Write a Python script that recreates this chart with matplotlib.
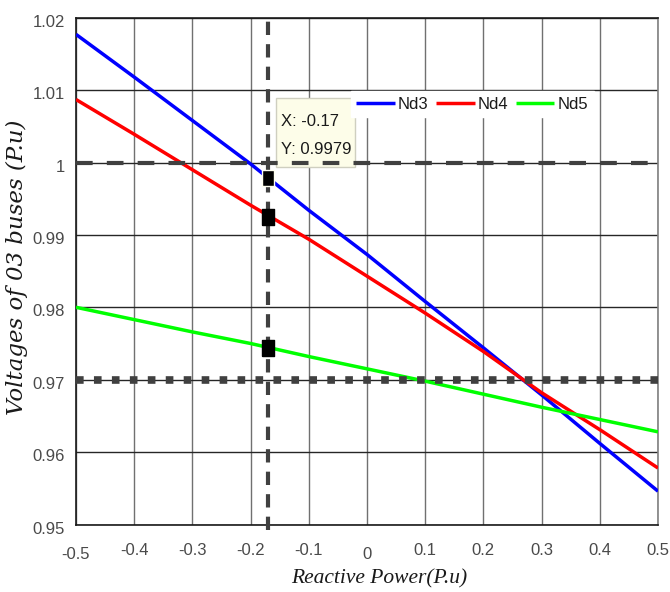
import matplotlib
matplotlib.use("Agg")
import matplotlib.pyplot as plt
import matplotlib.transforms as mtrans
from matplotlib.patches import Rectangle

# ---------------- data ----------------
q = [-0.5, -0.4, -0.3, -0.2, -0.1, 0.0, 0.1, 0.2, 0.3, 0.4, 0.5]
nd3 = [1.0177, 1.0118, 1.0058, 0.9998, 0.9934, 0.9873, 0.9808, 0.9744, 0.9679, 0.9612, 0.9546]
nd4 = [1.0087, 1.0039, 0.9990, 0.9941, 0.9894, 0.9843, 0.9792, 0.9739, 0.9682, 0.9631, 0.9578]
nd5 = [0.9800, 0.9783, 0.9766, 0.9750, 0.9732, 0.9715, 0.9698, 0.9680, 0.9662, 0.9645, 0.9628]
series_names = ["Nd3", "Nd4", "Nd5"]
cursor_x = -0.17
cursor_y = [0.9979, 0.9925, 0.9744]
limit_high = 1.0
limit_low = 0.97
xticks = [-0.5, -0.4, -0.3, -0.2, -0.1, 0, 0.1, 0.2, 0.3, 0.4, 0.5]
xtick_labels = ["-0.5", "-0.4", "-0.3", "-0.2", "-0.1", "0", "0.1", "0.2", "0.3", "0.4", "0.5"]
yticks = [0.95, 0.96, 0.97, 0.98, 0.99, 1.0, 1.01, 1.02]
ytick_labels = ["0.95", "0.96", "0.97", "0.98", "0.99", "1", "1.01", "1.02"]

sans = ["Liberation Sans", "DejaVu Sans"]

fig = plt.figure(figsize=(6.7, 5.92), dpi=100)
ax = fig.add_axes([76 / 670, 67.5 / 592, 582 / 670, 506.8 / 592])
ax.set_xlim(-0.5, 0.5)
ax.set_ylim(0.95, 1.02)

# grid
for xv in xticks:
    ax.axvline(xv, color="#707070", lw=1.0, zorder=1)
for yv in yticks:
    ax.axhline(yv, color="#262626", lw=1.0, zorder=1)

colors = ["#0000ff", "#ff0000", "#00ff00"]
for ys, c, name in zip([nd3, nd4, nd5], colors, series_names):
    ax.plot(q, ys, color=c, lw=2.5, label=name, zorder=3, solid_capstyle="butt")

# reference lines
l1 = ax.axhline(limit_high, color="#404040", lw=3.0, zorder=4)
l1.set_dashes((4.0, 3.4))
l2 = ax.axhline(limit_low, color="#404040", lw=5.5, zorder=4)
l2.set_dashes((1.0, 1.35))
vl, = ax.plot([cursor_x, cursor_x], [0.9493, 1.02], color="#404040", lw=3.0,
              zorder=4, clip_on=False)
vl.set_dashes((3.2, 2.2))

# markers
mk = [(-0.35, -0.5), (0.35, -0.5), (0.35, 0.5), (-0.35, 0.5), (-0.35, -0.5)]
for i, yv in enumerate(cursor_y):
    ax.plot([cursor_x], [yv], marker=mk, markersize=12, color="black",
            markeredgecolor="#fffff0" if i == 0 else "black", markeredgewidth=1.0,
            linestyle="none", zorder=5)

# data tip box
box = Rectangle((276 / 670, 1 - 167 / 592), 79 / 670, 69 / 592, transform=fig.transFigure,
                facecolor="#fdfde9", edgecolor="#cfcfc0", lw=1.0, zorder=3.5)
ax.add_patch(box)
fig.text(281 / 670, 1 - 121 / 592, f"X: {cursor_x:g}", family=sans, fontsize=12,
         color="#1a1a1a", va="center", ha="left")
fig.text(281 / 670, 1 - 149 / 592, f"Y: {cursor_y[0]:.4f}", family=sans, fontsize=12,
         color="#1a1a1a", va="center", ha="left")

# ticks
ax.set_xticks(xticks)
ax.set_xticklabels(xtick_labels)
ax.set_yticks(yticks)
ax.set_yticklabels(ytick_labels)
ax.tick_params(axis="both", length=0, colors="#4a4a4a", labelsize=12)
ax.tick_params(axis="x", pad=13)
ax.tick_params(axis="y", pad=8)
for lab in ax.get_xticklabels() + ax.get_yticklabels():
    lab.set_family(sans)
    lab.set_color("#4a4a4a")
for lab in ax.get_yticklabels():
    lab.set_transform(lab.get_transform() + mtrans.ScaledTranslation(0, -3 / 100, fig.dpi_scale_trans))
for lab in ax.get_xticklabels():
    if lab.get_text() in ("-0.5", "0"):
        lab.set_transform(lab.get_transform() + mtrans.ScaledTranslation(0, -4 / 100, fig.dpi_scale_trans))

for side, col in [("left", "#1a1a1a"), ("bottom", "#1a1a1a"), ("top", "#1a1a1a"), ("right", "#808080")]:
    ax.spines[side].set_color(col)
    ax.spines[side].set_linewidth(1.2)

ax.set_xlabel("Reactive Power(P.u)", family="Liberation Serif", style="italic",
              fontsize=15.5, color="#1a1a1a")
ax.xaxis.set_label_coords(0.521, -0.089)
ax.set_ylabel("Voltages of 03 buses (P.u)", family="DejaVu Serif", style="italic",
              fontsize=16.5, color="#1a1a1a")
ax.yaxis.set_label_coords(-0.082, 0.508)

leg = ax.legend(loc="center", bbox_to_anchor=(0.681, 0.8297), ncol=3, frameon=True,
                fancybox=False, framealpha=1, facecolor="white", edgecolor="white",
                prop={"family": sans, "size": 12}, handlelength=2.3,
                handletextpad=0.2, columnspacing=0.45, borderpad=0.35, borderaxespad=0)
leg.set_zorder(6)
for t in leg.get_texts():
    t.set_color("#1a1a1a")

fig.savefig("out.png", dpi=100)
